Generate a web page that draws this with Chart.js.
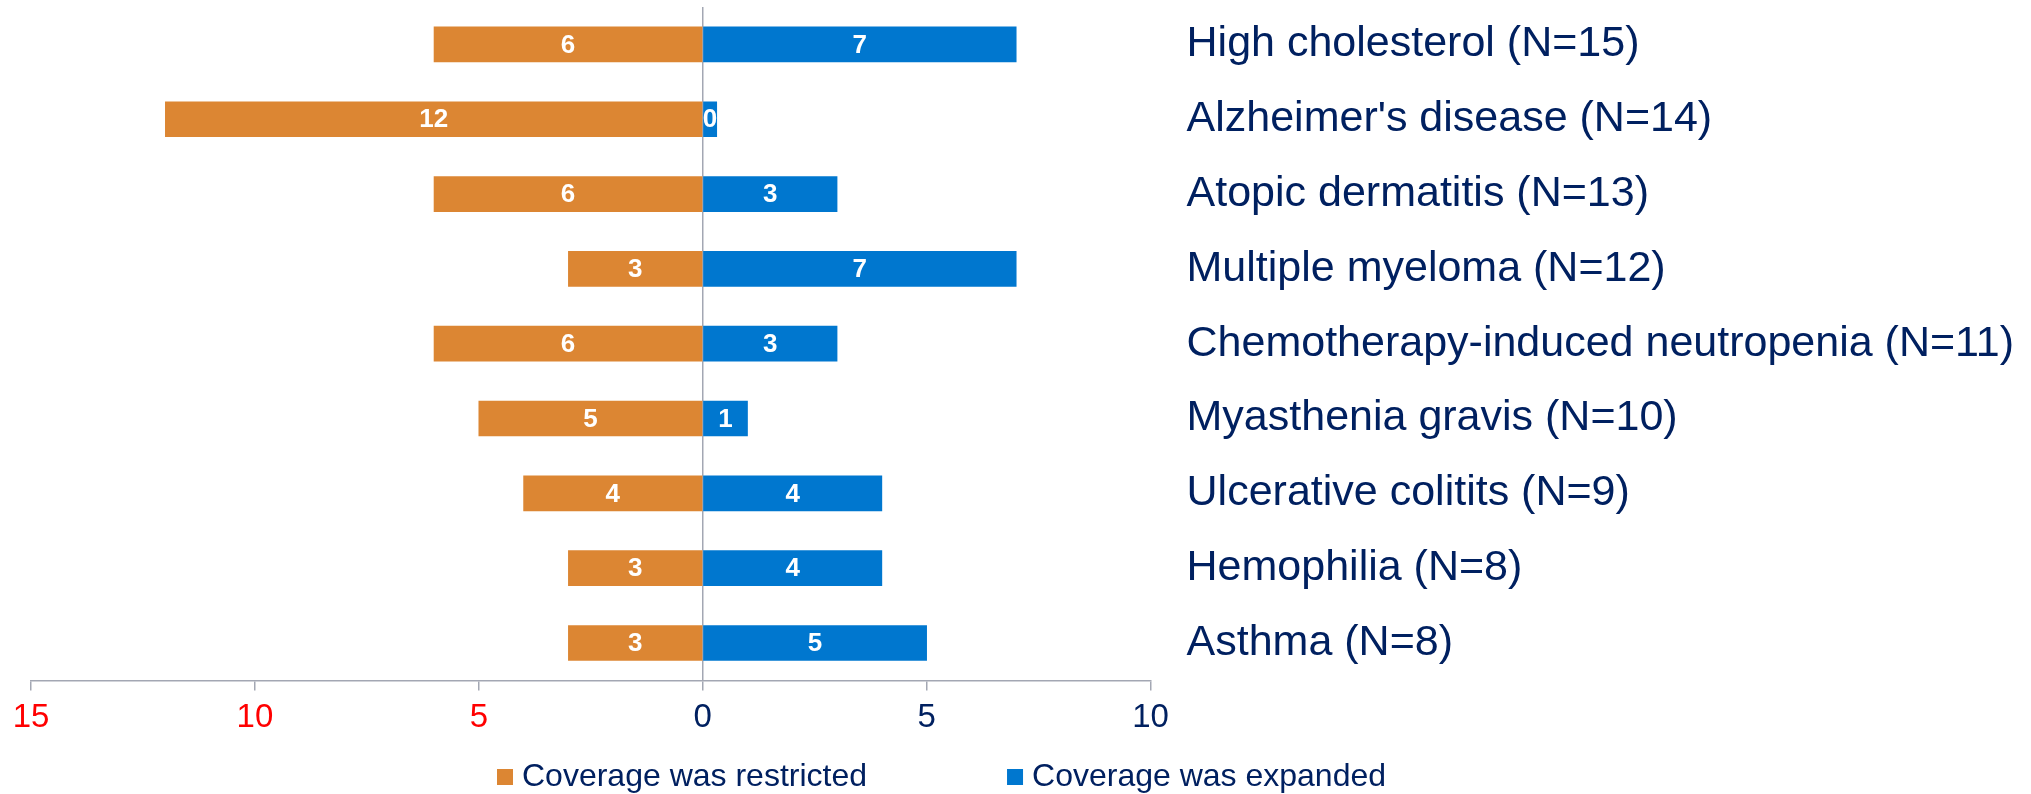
<!DOCTYPE html>
<html>
<head>
<meta charset="utf-8">
<script src="https://cdn.jsdelivr.net/npm/chart.js@4.4.1/dist/chart.umd.min.js"></script>
<style>
  html, body { margin: 0; padding: 0; background: #ffffff; }
  #wrap { width: 2031px; height: 794px; position: relative; }
  canvas { display: block; }
</style>
</head>
<body>
<div id="wrap"><canvas id="c" width="2031" height="794" style="width:2031px;height:794px"></canvas></div>
<script>
const categories = [
  'High cholesterol (N=15)',
  "Alzheimer's disease (N=14)",
  'Atopic dermatitis (N=13)',
  'Multiple myeloma (N=12)',
  'Chemotherapy-induced neutropenia (N=11)',
  'Myasthenia gravis (N=10)',
  'Ulcerative colitits (N=9)',
  'Hemophilia (N=8)',
  'Asthma (N=8)'
];
const restricted = [6, 12, 6, 3, 6, 5, 4, 3, 3];
const expanded = [7, 0, 3, 7, 3, 1, 4, 4, 5];
const seriesNames = ['Coverage was restricted', 'Coverage was expanded'];
const xMin = -15, xMax = 10, xStep = 5;

const ORANGE = '#DC8633';
const BLUE = '#0077CF';
const NAVY = '#002060';
const RED = '#FF0000';
const GRAY = '#A3A7B3';
const FONT = "'Liberation Sans', Arial, sans-serif";

// value labels drawn at centre of each bar, from the source arrays
const valueLabels = {
  id: 'valueLabels',
  afterDatasetsDraw(chart) {
    const ctx = chart.ctx;
    const sources = [restricted, expanded];
    ctx.save();
    ctx.font = 'bold 26px ' + FONT;
    ctx.fillStyle = '#ffffff';
    ctx.textAlign = 'center';
    ctx.textBaseline = 'middle';
    chart.data.datasets.forEach((ds, di) => {
      const meta = chart.getDatasetMeta(di);
      meta.data.forEach((el, i) => {
        const cx = (el.x + el.base) / 2;
        ctx.fillText(String(sources[di][i]), cx, el.y + 1);
      });
    });
    ctx.restore();
  }
};

// legend drawn below the axis
const customLegend = {
  id: 'customLegend',
  afterDraw(chart, args, opts) {
    const ctx = chart.ctx;
    ctx.save();
    ctx.font = opts.fontSize + 'px ' + FONT;
    ctx.textBaseline = 'middle';
    ctx.textAlign = 'left';
    let x = opts.startX;
    const cy = chart.height - opts.bottomOffset;
    chart.data.datasets.forEach((ds) => {
      ctx.fillStyle = ds.backgroundColor;
      ctx.fillRect(x, cy - opts.box / 2, opts.box, opts.box);
      ctx.fillStyle = NAVY;
      const tx = x + opts.box + opts.textGap;
      ctx.fillText(ds.label, tx, cy);
      x = tx + ctx.measureText(ds.label).width + opts.itemGap;
    });
    ctx.restore();
  }
};

new Chart(document.getElementById('c'), {
  type: 'bar',
  data: {
    labels: categories,
    datasets: [
      {
        label: seriesNames[0],
        data: restricted.map(v => -v),
        backgroundColor: ORANGE,
        barThickness: 35
      },
      {
        label: seriesNames[1],
        // a zero is kept as a vanishing positive value so the library's minBarLength stub grows to the right
        data: expanded.map(v => v === 0 ? 1e-6 : v),
        backgroundColor: BLUE,
        barThickness: 35,
        minBarLength: 14
      }
    ]
  },
  options: {
    indexAxis: 'y',
    responsive: false,
    maintainAspectRatio: false,
    animation: false,
    devicePixelRatio: 1,
    layout: { padding: { top: 7, left: 31, right: 17, bottom: 48 } },
    plugins: {
      legend: { display: false },
      tooltip: { enabled: false },
      customLegend: { startX: 497, bottomOffset: 17, box: 16, textGap: 9, itemGap: 140, fontSize: 32 }
    },
    scales: {
      x: {
        stacked: true,
        min: xMin,
        max: xMax,
        ticks: {
          stepSize: xStep,
          padding: 8,
          font: { family: FONT, size: 33 },
          color: (c) => c.tick && c.tick.value < 0 ? RED : NAVY,
          callback: (v) => Math.abs(v)
        },
        grid: {
          color: (c) => c.tick && c.tick.value === 0 ? GRAY : 'rgba(0,0,0,0)',
          lineWidth: 1.5,
          tickColor: GRAY,
          tickLength: 10,
          drawTicks: true
        },
        border: { display: true, color: GRAY, width: 1.5 }
      },
      y: {
        stacked: true,
        position: 'right',
        afterFit(scale) {
          // labels sit beside the axis only: no vertical overhang, padding counted once
          scale.paddingTop = 0;
          scale.paddingBottom = 0;
          scale.width -= scale.options.ticks.padding;
        },
        ticks: {
          padding: 36,
          font: { family: FONT, size: 43 },
          color: NAVY,
          autoSkip: false
        },
        grid: { display: false, drawTicks: false },
        border: { display: false }
      }
    }
  },
  plugins: [valueLabels, customLegend]
});
</script>
</body>
</html>
